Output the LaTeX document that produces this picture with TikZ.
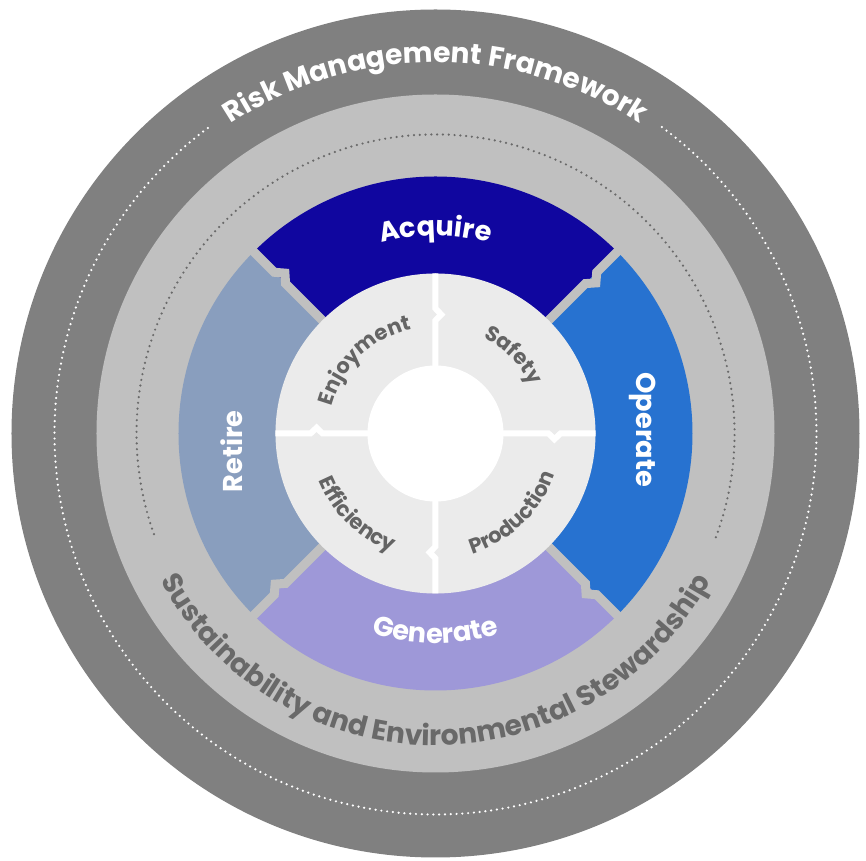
\documentclass[tikz,border=0pt]{standalone}
\usepackage{fontspec}
\setmainfont{Poppins}
\usetikzlibrary{decorations.text}

\definecolor{bandDark}{RGB}{128,128,128}
\definecolor{bandLight}{RGB}{192,192,192}
\definecolor{acquireBlue}{RGB}{16,6,159}
\definecolor{operateBlue}{RGB}{39,114,208}
\definecolor{generateLilac}{RGB}{158,152,216}
\definecolor{retireSlate}{RGB}{137,158,190}
\definecolor{coreGrey}{RGB}{235,235,235}
\definecolor{coreText}{RGB}{100,100,100}
\definecolor{ringText}{RGB}{105,105,105}
\definecolor{dotGrey}{RGB}{105,105,105}

\newcommand\bandfont{\bfseries\fontsize{16}{18}\selectfont}
\newcommand\phasefont{\bfseries\fontsize{15.5}{17}\selectfont}
\newcommand\corefont{\bfseries\fontsize{12}{14}\selectfont}

\tikzset{
	dotring/.style={line width=1.4pt, dash pattern=on 0pt off 3.3pt, line cap=round},
	arctext/.style={decorate, decoration={text along path, text align=center, #1}},
	phaselabel/.style={text=white, font=\phasefont, inner sep=0pt},
	gapline/.style={bandLight, line width=0.18cm},
	crossline/.style={white, line width=0.12cm},
}

\begin{document}
\begin{tikzpicture}[x=0.02cm, y=0.02cm]
	\useasboundingbox (-435.5,-427.5) rectangle (430.5,433.5);

	% outer bands
	\fill[bandDark] (0,0) circle [radius=424];
	\fill[bandLight] (0,0) circle [radius=339];
	\draw[dotring, white] (126.7:381) arc[start angle=126.7, end angle=414.2, radius=381];
	\draw[dotring, dotGrey] (-20.3:299) arc[start angle=-20.3, end angle=199.8, radius=299];

	\path[arctext={text color=white, text={|\bandfont|Risk Management Framework}}]
		(160:371) arc[start angle=160, end angle=20, radius=371];
	\path[arctext={text color=ringText, text={|\bandfont|Sustainability and Environmental Stewardship}}]
		(180:312) arc[start angle=180, end angle=360, radius=312];

	% lifecycle ring
	\fill[acquireBlue] (0,0) -- (45:257) arc[start angle=45, end angle=135, radius=257] -- cycle;
	\fill[retireSlate] (0,0) -- (135:257) arc[start angle=135, end angle=225, radius=257] -- cycle;
	\fill[generateLilac] (0,0) -- (225:257) arc[start angle=225, end angle=315, radius=257] -- cycle;
	\fill[operateBlue] (0,0) -- (-45:257) arc[start angle=-45, end angle=45, radius=257] -- cycle;
	\foreach \a in {45,135,225,315}{
		\draw[gapline] (\a:150) -- (\a:212) -- ({\a-1.8}:220) -- (\a:228) -- (\a:258);
	}

	\path[arctext={text color=white, text={|\phasefont|Acquire}}]
		(150:198) arc[start angle=150, end angle=30, radius=198];
	\path[arctext={text color=white, text={|\phasefont|Generate}}]
		(210:210) arc[start angle=210, end angle=330, radius=210];
	\node[phaselabel, rotate=-90] (operate) at (1:207) {Operate};
	\node[phaselabel, rotate=90] (retire) at (185:205) {Retire};

	% core
	\fill[coreGrey] (0,0) circle [radius=160];
	\foreach \a in {0,90,180,270}{
		\draw[crossline] (\a:60) -- (\a:113) -- ({\a-2.8}:119) -- (\a:125) -- (\a:160);
	}
	\fill[white] (0,0) circle [radius=68];

	\path[arctext={text color=coreText, text={|\corefont|Enjoyment}}]
		(194:107) arc[start angle=194, end angle=74, radius=107];
	\path[arctext={text color=coreText, text={|\corefont|Safety}}]
		(105:107) arc[start angle=105, end angle=-15, radius=107];
	\path[arctext={text color=coreText, text={|\corefont|Efficiency}}]
		(166:126) arc[start angle=166, end angle=286, radius=126];
	\path[arctext={text color=coreText, text={|\corefont|Production}}]
		(-106:126) arc[start angle=-106, end angle=14, radius=126];
\end{tikzpicture}
\end{document}
